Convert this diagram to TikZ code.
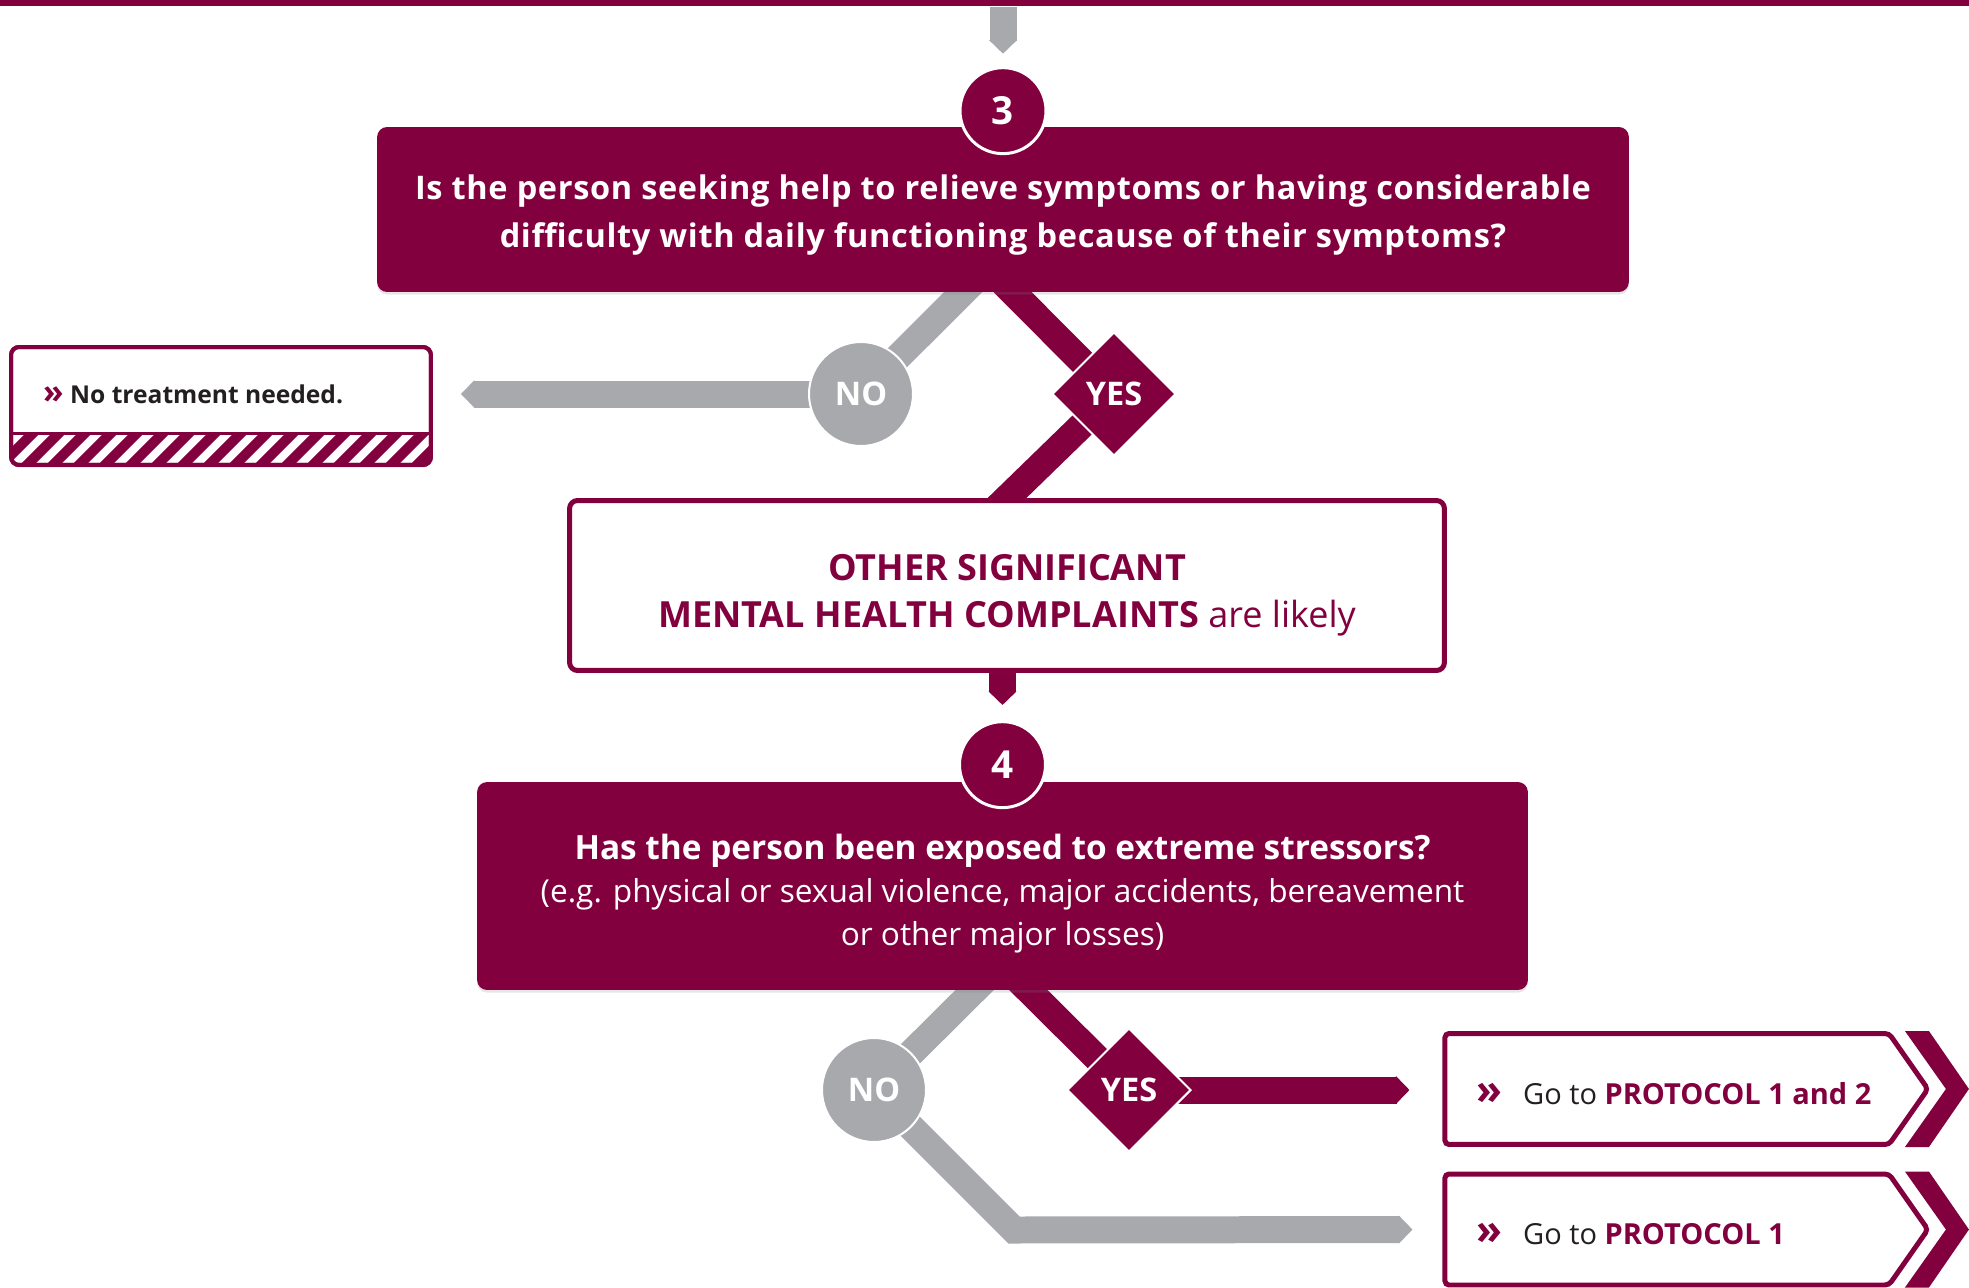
\documentclass[tikz,border=0pt]{standalone}
\usepackage{fontspec}
\setmainfont{Open Sans}
\usetikzlibrary{arrows.meta,positioning,calc,shapes.geometric,shapes.symbols,shadows}
\definecolor{wine}{HTML}{83003F}
\definecolor{band}{HTML}{A7A9AC}
\definecolor{ink}{HTML}{231F20}
\pgfdeclarelayer{bg}
\pgfsetlayers{bg,main}
\newcommand{\guillemark}[1]{{\color{wine}\fontsize{#1}{#1}\selectfont\bfseries»}}

\begin{document}
\begin{tikzpicture}[
    x=0.02cm, y=-0.02cm,
    question/.style={
        fill=wine, rounded corners=0.2cm, text=white, align=center,
        inner sep=0pt,
        drop shadow={opacity=0.2, shadow xshift=0pt, shadow yshift=-1.5pt}
    },
    outcome/.style={
        draw=wine, line width=0.1cm, fill=white, rounded corners=0.16cm,
        text=wine, align=center, inner sep=0pt,
        drop shadow={opacity=0.2, shadow xshift=0pt, shadow yshift=-1.5pt}
    },
    stepnum/.style={
        circle, fill=wine, draw=white, line width=0.06cm, minimum size=1.72cm,
        inner sep=0pt, text=white, font=\fontsize{22}{22}\selectfont\bfseries
    },
    nobadge/.style={
        circle, fill=band, draw=white, line width=0.04cm, minimum size=2.08cm,
        inner sep=0pt, text=white, font=\fontsize{18.5}{18.5}\selectfont\bfseries
    },
    yesbadge/.style={
        diamond, aspect=1, fill=wine, draw=white, line width=0.04cm,
        minimum size=2.48cm, inner sep=0pt, text=white,
        font=\fontsize{18.5}{18.5}\selectfont\bfseries
    },
    protocol/.style={
        signal, signal to=east, signal pointer angle=110,
        draw=wine, line width=0.1cm, fill=white, rounded corners=0.08cm,
        minimum width=9.66cm, minimum height=2.22cm, inner sep=0pt
    },
    gotext/.style={anchor=base west, text=ink, font=\fontsize{16.5}{16.5}\selectfont},
    gband/.style={line width=0.54cm, band},
    mband/.style={line width=0.54cm, wine},
    pointed/.style={-{Triangle[width=0.54cm, length=0.27cm]}}
]
    \useasboundingbox (0,0) rectangle (1969,1288);

    % Top rule
    \node[fill=wine, minimum width=39.38cm, minimum height=0.12cm, inner sep=0pt,
        anchor=north west] (topbar) at (0,0) {};

    % Question 3
    \node[question, minimum width=25.04cm, minimum height=3.3cm,
        font=\fontsize{18.5}{27}\selectfont\bfseries\addfontfeatures{LetterSpace=2}]
        (q3) at (1003,209.5)
        {\rule{0pt}{0.72cm}Is the person seeking help to relieve symptoms or having considerable\\
         difficulty with daily functioning because of their symptoms?};
    \node[stepnum, yshift=0.32cm] (s3) at (q3.north) {3};

    % Answers to 3
    \node[nobadge] (no3) at (861,394) {NO};
    \node[yesbadge] (yes3) at (1114,394) {YES};
    \coordinate (j3) at ($(q3.south)+(-15,-25)$);

    % No treatment box with hatched strip
    \node[outcome, outer sep=0pt, line width=0.08cm, minimum width=8.4cm,
        minimum height=2.36cm] (nt) at (221,406) {};
    \coordinate (stripetop) at (221,433);
    \begin{scope}
        \clip[rounded corners=0.16cm] (nt.south west) rectangle (nt.north east);
        \clip (nt.south west) rectangle (nt.east |- stripetop);
        \foreach \i in {0,...,18}
            \draw[wine, line width=0.2cm] ($(nt.south west)+(\i*26-20,10)$) -- ++(50,-50);
    \end{scope}
    \draw[wine, line width=0.06cm] (nt.west |- stripetop) -- (nt.east |- stripetop);
    \draw[wine, line width=0.08cm, rounded corners=0.16cm] (nt.south west) rectangle (nt.north east);
    \node[anchor=base west, text=ink, font=\fontsize{14}{14}\selectfont\bfseries]
        (ntlabel) at ($(nt.north west)+(26,56)$) {\guillemark{19} No treatment needed.};

    % Outcome of YES
    \node[outcome, minimum width=17.5cm, minimum height=3.4cm,
        font=\fontsize{20.5}{27}\selectfont] (other) at (1007,585.5)
        {\rule{0pt}{0.92cm}{\bfseries OTHER SIGNIFICANT}\\{\bfseries MENTAL HEALTH COMPLAINTS} are likely};

    % Question 4
    \node[question, minimum width=21.02cm, minimum height=4.16cm,
        font=\fontsize{18}{24.5}\selectfont] (q4) at (1002.5,886)
        {\rule{0pt}{0.82cm}{\fontsize{19}{24.5}\selectfont\bfseries Has the person been exposed to extreme stressors?}\\
         (e.g. physical or sexual violence, major accidents, bereavement\\
         or other major losses)};
    \node[stepnum, yshift=0.34cm] (s4) at (q4.north) {4};

    % Answers to 4
    \node[nobadge] (no4) at (874,1090) {NO};
    \node[yesbadge] (yes4) at (1129,1090) {YES};
    \coordinate (j4) at ($(q4.south)+(-1,-27)$);

    % Protocol boxes
    \node[protocol] (p12) at (1667,1089) {};
    \node[protocol] (p1) at (1667,1229.5) {};
    \foreach \p in {p12,p1}
        \fill[wine] ($(\p.east)+(-26,-58)$) -- ++(24,0) -- ++(40,58) -- ++(-40,58)
            -- ++(-24,0) -- ++(41,-58) -- cycle;
    \node[gotext] (p12label) at ($(p12.west)+(28,15)$)
        {\guillemark{24}\hspace{0.45em} Go to {\color{wine}\bfseries PROTOCOL 1 and 2}};
    \node[gotext] (p1label) at ($(p1.west)+(28,15)$)
        {\guillemark{24}\hspace{0.45em} Go to {\color{wine}\bfseries PROTOCOL 1}};

    % Connectors behind the boxes
    \begin{pgfonlayer}{bg}
        \draw[gband, pointed] (topbar.south -| s3) -- ++(0,47);
        \draw[gband] (no3.center) -- (j3);
        \draw[mband] (yes3.center) -- (j3);
        \draw[gband, pointed, shorten >=0.6cm] (no3.center) -- (no3 -| nt.east);
        \draw[mband] (yes3.center) -- ($(yes3.center)!1.25!(other.north)$);
        \draw[mband, pointed] (other.south -| s4) -- ++(0,32);
        \draw[gband] (no4.center) -- (j4);
        \draw[mband] (yes4.center) -- (j4);
        \draw[mband, pointed, shorten >=0.66cm] (yes4.center) -- (yes4 -| p12.west);
        \draw[gband, pointed, shorten >=0.6cm] (no4.center) -- ++(140,140) -- (p1.west);
    \end{pgfonlayer}

\end{tikzpicture}
\end{document}
